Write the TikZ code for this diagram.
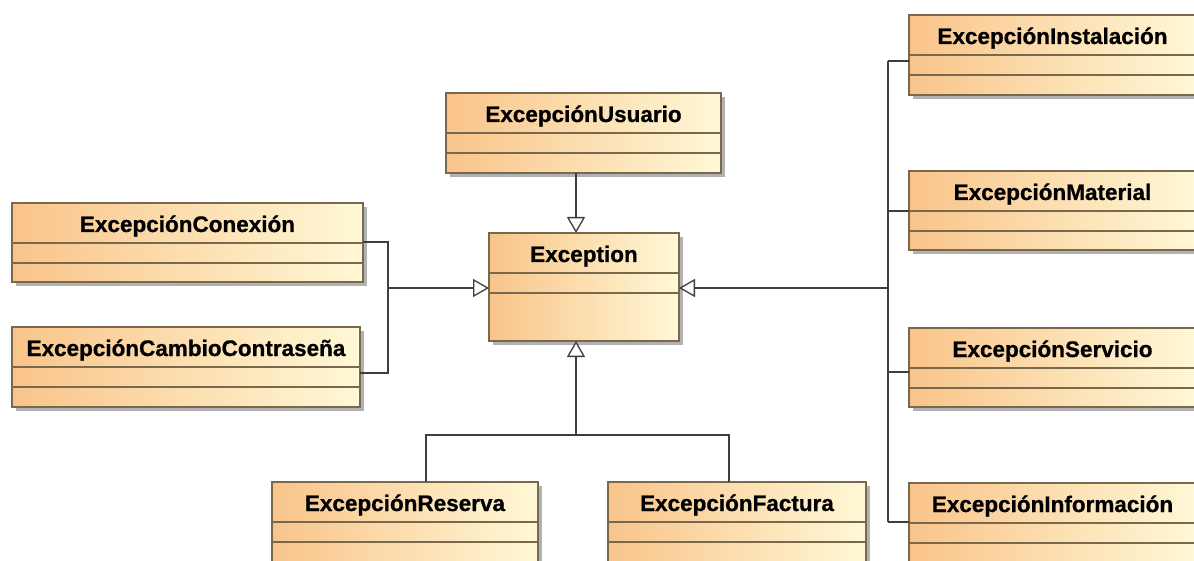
\documentclass[tikz,border=0pt]{standalone}
\usepackage{fontspec}
\setmainfont{Liberation Sans}
\newfontfamily\classfont{Liberation Sans Bold}[FakeBold=0.8]
\usetikzlibrary{arrows.meta,shadows}

\definecolor{boxorange}{RGB}{249,196,138}
\definecolor{boxcream}{RGB}{255,248,214}
\definecolor{boxborder}{RGB}{120,104,76}
\definecolor{linkgray}{RGB}{62,62,62}

\tikzset{
  classbox/.style={rectangle, anchor=north west, inner sep=0pt, outer sep=0pt,
    draw=boxborder, line width=1.1pt, left color=boxorange, right color=boxcream,
    drop shadow={shadow xshift=4pt, shadow yshift=-4pt, fill=black!55, opacity=0.55}},
  classname/.style={anchor=base, inner sep=0pt, text=black,
    font=\classfont\fontsize{22.5}{27}\selectfont},
  sepline/.style={draw=boxborder, line width=1.1pt},
  link/.style={draw=linkgray, line width=1.4pt},
  inherit/.style={link, -{Triangle[length=16pt, width=18pt, fill=white, line width=1.3pt]}},
}

% one UML class: name, x, y, width, height, title
\newcommand\umlclass[6]{%
  \node[classbox, minimum width=#4pt, minimum height=#5pt] (#1) at (#2,#3) {};
  \node[classname] (#1-name) at ([yshift=-29pt]#1.north) {#6};
  \draw[sepline] ([yshift=-40pt]#1.north west) -- ([yshift=-40pt]#1.north east);
  \draw[sepline] ([yshift=-60pt]#1.north west) -- ([yshift=-60pt]#1.north east);
}

\begin{document}
\begin{tikzpicture}[x=1pt, y=-1pt]
  \useasboundingbox (0,0) rectangle (1194,561);
  \fill[white] (0,0) rectangle (1194,561);
  \clip (0,0) rectangle (1194,561);

  % classes
  \umlclass{usuario}{446}{93}{275}{80}{ExcepciónUsuario}
  \umlclass{exception}{489}{233}{190}{108}{Exception}
  \umlclass{conexion}{12}{203}{351}{79}{ExcepciónConexión}
  \umlclass{cambio}{12}{327}{348}{80}{ExcepciónCambioContraseña}
  \umlclass{reserva}{272}{482}{266}{110}{ExcepciónReserva}
  \umlclass{factura}{608}{482}{258}{110}{ExcepciónFactura}
  \umlclass{instalacion}{909}{15}{287}{80}{ExcepciónInstalación}
  \umlclass{material}{909}{171}{287}{79}{ExcepciónMaterial}
  \umlclass{servicio}{909}{328}{287}{79}{ExcepciónServicio}
  \umlclass{informacion}{909}{483}{287}{110}{ExcepciónInformación}

  % bus junctions
  \coordinate (top-x) at (576,0);
  \coordinate (lbus-top) at (388,242);
  \coordinate (lbus-mid) at (388,288);
  \coordinate (lbus-bot) at (388,373);
  \coordinate (rbus-1) at (888,61);
  \coordinate (rbus-2) at (888,211);
  \coordinate (rbus-mid) at (888,288);
  \coordinate (rbus-3) at (888,372);
  \coordinate (rbus-4) at (888,522);
  \coordinate (bbus-l) at (426,435);
  \coordinate (bbus-m) at (576,435);
  \coordinate (bbus-r) at (729,435);

  % generalisation from above
  \draw[inherit] (usuario.south -| top-x) -- (exception.north -| top-x);

  % generalisations from the left
  \draw[link] (conexion.east |- lbus-top) -- (lbus-top) -- (lbus-bot) -- (cambio.east |- lbus-bot);
  \draw[inherit] (lbus-mid) -- (exception.west |- lbus-mid);

  % generalisations from the right
  \draw[link] (rbus-1) -- (rbus-4);
  \draw[link] (rbus-1) -- (instalacion.west |- rbus-1);
  \draw[link] (rbus-2) -- (material.west |- rbus-2);
  \draw[link] (rbus-3) -- (servicio.west |- rbus-3);
  \draw[link] (rbus-4) -- (informacion.west |- rbus-4);
  \draw[inherit] (rbus-mid) -- (exception.east |- rbus-mid);

  % generalisations from below
  \draw[link] (reserva.north -| bbus-l) -- (bbus-l) -- (bbus-r) -- (factura.north -| bbus-r);
  \draw[inherit] (bbus-m) -- (exception.south -| bbus-m);
\end{tikzpicture}
\end{document}
